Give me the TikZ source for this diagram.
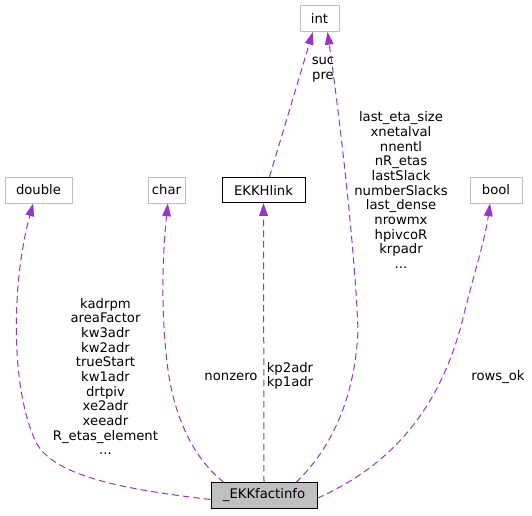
\documentclass[tikz,border=0pt]{standalone}
\usepackage{fontspec}
\setmainfont{DejaVu Sans}
\usetikzlibrary{arrows.meta}
\definecolor{edgepurple}{RGB}{154,50,205}
\definecolor{boxgray}{RGB}{191,191,191}
\tikzset{every picture/.style={line width=0.75pt}}
\tikzset{
  lbl/.style={font=\fontsize{9.9}{11}\selectfont, align=center, inner sep=0pt},
  typebox/.style={lbl, draw=boxgray, minimum width=#1*0.75pt, minimum height=19.5pt},
  classbox/.style={lbl, draw=black, minimum width=#1*0.75pt, minimum height=19pt},
  member/.style={draw=edgepurple, dash pattern=on 5pt off 3pt, -{Triangle[length=9.5pt,width=6.5pt,fill=edgepurple]}}
}

\begin{document}
\begin{tikzpicture}[x=0.75pt,y=0.75pt,yscale=-1,xscale=1]
\useasboundingbox (0,0) rectangle (532,515);

% types
\draw (319.5,18.5) node [typebox=39] (intt) {int};
\draw (38.5,190) node [typebox=67] (dbl) {double};
\draw (166.5,190) node [typebox=37] (chr) {char};
\draw (263.5,190) node [classbox=83] (hlink) {EKKHlink};
\draw (496,190) node [typebox=52] (boolt) {bool};
\draw (264,495.5) node [classbox=106, fill=boxgray] (finfo) {\_EKKfactinfo};

% members
\draw [member] ([xshift=4.5pt]hlink.north) -- ([xshift=-5pt]intt.south);
\draw [member] ([yshift=3pt]finfo.west) .. controls (120,489) and (50,475) .. (35,440) .. controls (10,385) and (12,280) .. ([xshift=-4pt]dbl.south);
\draw [member] ([xshift=-30pt]finfo.north) .. controls (195,460) and (175,420) .. (168,370) .. controls (160,310) and (163,250) .. ([xshift=1pt]chr.south);
\draw [member] (finfo.north) -- (hlink.south);
\draw [member] ([xshift=24pt]finfo.north) .. controls (330,450) and (355,400) .. (358,330) .. controls (355,250) and (340,120) .. ([xshift=6pt]intt.south);
\draw [member] ([yshift=2pt]finfo.east) .. controls (380,470) and (440,420) .. (465,310) .. controls (475,270) and (485,240) .. ([xshift=-4.5pt]boolt.south);

% labels
\draw (323,70) node [lbl] (lsucpre) {suc\\pre};
\draw (401,190) node [lbl] (lint) {last\_eta\_size\\xnetalval\\nnentl\\nR\_etas\\lastSlack\\numberSlacks\\last\_dense\\nrowmx\\hpivcoR\\krpadr\\...};
\draw (105.5,376.5) node [lbl] (ldbl) {kadrpm\\areaFactor\\kw3adr\\kw2adr\\trueStart\\kw1adr\\drtpiv\\xe2adr\\xeeadr\\R\_etas\_element\\...};
\draw (231,377) node [lbl] (lchr) {nonzero};
\draw (290,376) node [lbl] (lhlink) {kp2adr\\kp1adr};
\draw (498,377) node [lbl] (lbool) {rows\_ok};

\end{tikzpicture}
\end{document}
